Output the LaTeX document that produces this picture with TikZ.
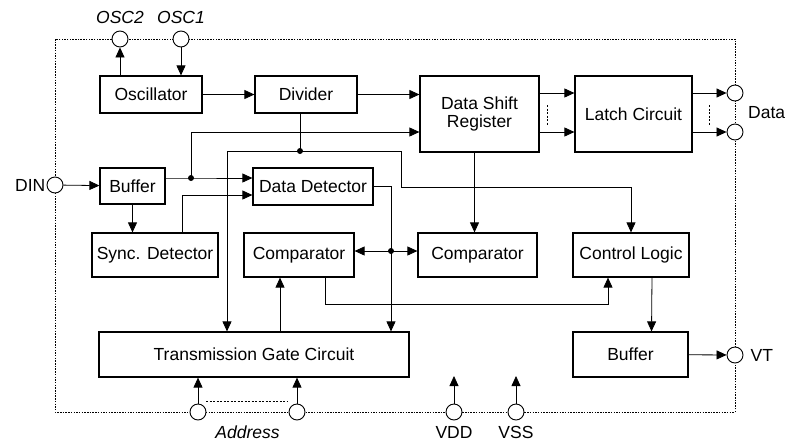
\documentclass[tikz,border=0pt]{standalone}
\usepackage{fontspec}
\setmainfont{Liberation Sans}
\usetikzlibrary{arrows.meta,positioning,calc}
\newcommand{\blockfont}{\fontsize{17.5}{18}\selectfont}

\begin{document}
\begin{tikzpicture}[
  x=1pt, y=-1pt,
  font=\blockfont,
  block/.style={draw, line width=1.2pt, align=center, inner sep=2pt},
  port/.style={draw, circle, fill=white, line width=0.9pt, minimum size=16pt, inner sep=0pt},
  lbl/.style={inner sep=1pt},
  flow/.style={-{Triangle[length=10pt,width=9pt]}, line width=0.8pt},
  wire/.style={line width=0.8pt},
  frame/.style={line width=0.8pt, dash pattern=on 1.5pt off 1.2pt},
  hint/.style={line width=0.8pt, dash pattern=on 2pt off 1.5pt},
]
\useasboundingbox (0,0) rectangle (787,445);

% Chip outline
\draw[frame] (55,39) rectangle (735,412);

% Top row
\node[block, minimum width=102, minimum height=37] (osc) at (151,94.5) {Oscillator};
\node[block, minimum width=102, minimum height=37] (div) at (306,94.5) {Divider};
\node[block, minimum width=119, minimum height=76] (dsr) at (479.5,114) {Data Shift\\Register};
\node[block, minimum width=117, minimum height=76] (latch) at (633.5,114) {Latch Circuit};

% Middle rows
\node[block, minimum width=65, minimum height=36] (buf1) at (132.5,186) {Buffer};
\node[block, minimum width=120, minimum height=37] (det) at (313,186.5) {Data Detector};
\node[block, minimum width=126, minimum height=44] (sync) at (155,255) {Sync. Detector};
\node[block, minimum width=110, minimum height=44] (cmp1) at (299,255) {Comparator};
\node[block, minimum width=119, minimum height=44] (cmp2) at (477.5,255) {Comparator};
\node[block, minimum width=116, minimum height=44] (ctrl) at (631,255) {Control Logic};

% Bottom row
\node[block, minimum width=310, minimum height=45] (tgc) at (254,354.5) {Transmission Gate Circuit};
\node[block, minimum width=115, minimum height=45] (buf2) at (630.5,354.5) {Buffer};

% Pins on the outline
\node[port] (osc2) at (120,39) {};
\node[port] (osc1) at (181,39) {};
\node[port] (din) at (55,185) {};
\node[port] (data1) at (735,93) {};
\node[port] (data2) at (735,132) {};
\node[port] (vt) at (735,355) {};
\node[port] (addr1) at (198,412) {};
\node[port] (addr2) at (297,412) {};
\node[port] (vdd) at (454,412) {};
\node[port] (vss) at (516,412) {};

% Pin labels
\node[lbl, above=6pt of osc2] (osc2lbl) {\textit{OSC2}};
\node[lbl, above=6pt of osc1] (osc1lbl) {\textit{OSC1}};
\node[lbl, left=0pt of din] (dinlbl) {DIN};
\coordinate (datamid) at ($(data1)!0.5!(data2)$);
\node[lbl, right=12pt of datamid] (datalbl) {Data};
\node[lbl, right=6pt of vt] (vtlbl) {VT};
\coordinate (addrmid) at ($(addr1)!0.5!(addr2)$);
\node[lbl, below=13pt of addrmid] (addrlbl) {\textit{Address}};
\node[lbl, below=5pt of vdd] (vddlbl) {VDD};
\node[lbl, below=5pt of vss] (vsslbl) {VSS};

% Clock path
\draw[flow] (osc2 |- osc.north) -- (osc2);
\draw[flow] (osc1) -- (osc1 |- osc.north);
\draw[flow] (osc) -- (div);
\draw[flow] (div.east) -- (dsr.west |- div.east);

% Input path
\coordinate (j1) at (191,178);
\draw[flow] (din) -- (buf1);
\draw[flow] ([yshift=8pt]buf1.east) -- (j1) -- (det.west |- j1);
\draw[flow] (j1) |- (dsr.west |- data2);
\draw[flow] (buf1.south) -- (buf1.south |- sync.north);
\coordinate (s1) at ($(sync.north)+(27,0)$);
\draw[flow] (s1) |- ([yshift=-8.5pt]det.west);

% Divider tap
\coordinate (j2) at (300,151);
\coordinate (b1) at (401,187);
\draw[wire] (j2 |- div.south) -- (j2);
\draw[flow] (j2) -| ([xshift=-27pt]tgc.north);
\draw[flow] (j2) -| (b1) -| (ctrl.north);

% Detector output
\coordinate (j3) at (391,251);
\draw[wire] (det.east) -| (j3);
\draw[flow] (j3) -- (j3 |- tgc.north);
\draw[flow] (j3) -- (j3 -| cmp1.east);
\draw[flow] (j3) -- (j3 -| cmp2.west);

% Compare and control
\coordinate (r1) at ($(dsr.south)+(-5,0)$);
\draw[flow] (r1) -- (r1 |- cmp2.north);
\coordinate (c1) at ($(cmp1.south)+(26,27)$);
\draw[flow] (c1 |- cmp1.south) -- (c1) -| ([xshift=-23pt]ctrl.south);
\coordinate (t1) at ($(cmp1.south)+(-19,0)$);
\draw[flow] (t1 |- tgc.north) -- (t1);
\draw[flow] ([xshift=21pt]ctrl.south) -- ([xshift=21pt]buf2.north);
\draw[flow] (buf2) -- (vt);

% Latch and outputs
\draw[flow] (dsr.east |- data1) -- (latch.west |- data1);
\draw[flow] (dsr.east |- data2) -- (latch.west |- data2);
\draw[flow] (latch.east |- data1) -- (data1);
\draw[flow] (latch.east |- data2) -- (data2);
\draw[hint] ($(dsr.east)+(8,-9)$) -- ($(dsr.east)+(8,12)$);
\draw[hint] ($(latch.east)+(17,-9)$) -- ($(latch.east)+(17,12)$);

% Address and supply
\draw[flow] (addr1) -- (addr1 |- tgc.south);
\draw[flow] (addr2) -- (addr2 |- tgc.south);
\draw[hint] ($(addr1)+(8,-11)$) -- ($(addr2)+(-9,-11)$);
\coordinate (vddtop) at ($(vdd)+(0,-36)$);
\coordinate (vsstop) at ($(vss)+(0,-36)$);
\draw[flow] (vdd) -- (vddtop);
\draw[flow] (vss) -- (vsstop);

% Junction dots
\foreach \j in {j1,j2,j3}
  \fill (\j) circle (3pt);

\end{tikzpicture}
\end{document}
